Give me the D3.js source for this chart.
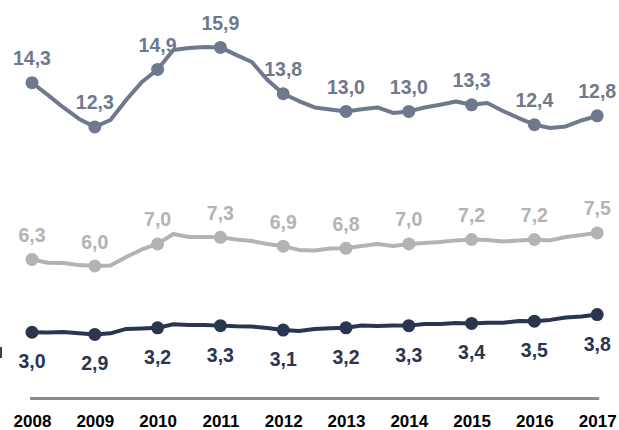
<!DOCTYPE html>
<html>
<head>
<meta charset="utf-8">
<script src="https://cdn.jsdelivr.net/npm/d3@7"></script>
<style>
  body { margin: 0; background: #fff; }
  svg { display: block; font-family: "Liberation Sans", Arial, sans-serif; }
</style>
</head>
<body>
<svg id="chart" width="619" height="430"></svg>
<script>
const years = [2008, 2009, 2010, 2011, 2012, 2013, 2014, 2015, 2016, 2017];

// annual values (labelled markers)
const topValues = [14.3, 12.3, 14.9, 15.9, 13.8, 13.0, 13.0, 13.3, 12.4, 12.8];
const midValues = [6.3, 6.0, 7.0, 7.3, 6.9, 6.8, 7.0, 7.2, 7.2, 7.5];
const lowValues = [3.0, 2.9, 3.2, 3.3, 3.1, 3.2, 3.3, 3.4, 3.5, 3.8];

// quarterly points between the annual markers (3 per year)
const topBetween = [
  13.75, 13.18, 12.66, 12.61, 13.52, 14.33, 15.78, 15.87, 15.92,
  15.56, 15.24, 14.42, 13.47, 13.18, 13.09, 13.1, 13.18, 12.93,
  13.18, 13.3, 13.45, 13.38, 13.02, 12.7, 12.25, 12.32, 12.59
];
const midBetween = [
  6.15, 6.14, 6.04, 6.02, 6.41, 6.75, 7.45, 7.31, 7.31,
  7.2, 7.13, 7.0, 6.73, 6.7, 6.79, 6.91, 7.0, 6.91,
  7.04, 7.09, 7.16, 7.18, 7.11, 7.16, 7.16, 7.31, 7.4
];
const lowBetween = [
  2.99, 3.01, 2.95, 2.95, 3.15, 3.17, 3.36, 3.33, 3.33,
  3.27, 3.26, 3.19, 3.06, 3.15, 3.18, 3.31, 3.28, 3.31,
  3.37, 3.37, 3.42, 3.43, 3.43, 3.51, 3.56, 3.67, 3.71
];

const series = [
  { annual: topValues, between: topBetween, color: "#6f798d", labelPos: "above" },
  { annual: midValues, between: midBetween, color: "#b3b3b3", labelPos: "above" },
  { annual: lowValues, between: lowBetween, color: "#2c3550", labelPos: "below" }
];

const svg = d3.select("#chart");

const x = d3.scaleLinear().domain([2008, 2017]).range([32, 597.2]);
const y = d3.scaleLinear().domain([0, 18]).range([398.5, 1]);

const fmt = d3.formatLocale({ decimal: ",", thousands: ".", grouping: [3], currency: ["", ""] }).format(".1f");

// build the full line (annual + quarterly) for each series
const toPoints = (s) => {
  const pts = [];
  years.forEach((yr, i) => {
    pts.push({ t: yr, v: s.annual[i] });
    if (i < years.length - 1) {
      for (let q = 0; q < 3; q++) {
        pts.push({ t: yr + (q + 1) / 4, v: s.between[i * 3 + q] });
      }
    }
  });
  return pts;
};

const line = d3
  .line()
  .x((d) => x(d.t))
  .y((d) => y(d.v));

// x axis (zero line + year labels)
const xAxis = svg
  .append("g")
  .attr("transform", `translate(0,${y(0)})`)
  .call(d3.axisBottom(x).tickValues(years).tickFormat(d3.format("d")).tickSize(0).tickSizeOuter(0).tickPadding(16));

xAxis
  .select(".domain")
  .attr("d", `M${x(2008) - 2},0H${x(2017) + 2}`)
  .attr("stroke", "#8c8c8c")
  .attr("stroke-width", 3);

xAxis
  .selectAll(".tick text")
  .attr("fill", "#000")
  .style("font-size", "17px")
  .style("font-weight", "bold")
  .style("font-family", '"Liberation Sans", Arial, sans-serif');

series.forEach((s) => {
  const g = svg.append("g");

  g.append("path")
    .datum(toPoints(s))
    .attr("fill", "none")
    .attr("stroke", s.color)
    .attr("stroke-width", 4)
    .attr("stroke-linejoin", "round")
    .attr("stroke-linecap", "round")
    .attr("d", line);

  g.selectAll("circle")
    .data(years)
    .join("circle")
    .attr("cx", (d) => x(d))
    .attr("cy", (d, i) => y(s.annual[i]))
    .attr("r", 6.5)
    .attr("fill", s.color);

  g.selectAll("text")
    .data(years)
    .join("text")
    .attr("x", (d) => x(d))
    .attr("y", (d, i) => y(s.annual[i]) + (s.labelPos === "above" ? -17.5 : 36))
    .attr("text-anchor", "middle")
    .attr("fill", s.color)
    .style("font-size", "19.5px")
    .style("font-weight", "bold")
    .text((d, i) => fmt(s.annual[i]));
});

// small cut-off mark at the left edge
svg.append("rect").attr("x", 0).attr("y", 347).attr("width", 2).attr("height", 11).attr("fill", "#3a4258");
</script>
</body>
</html>
